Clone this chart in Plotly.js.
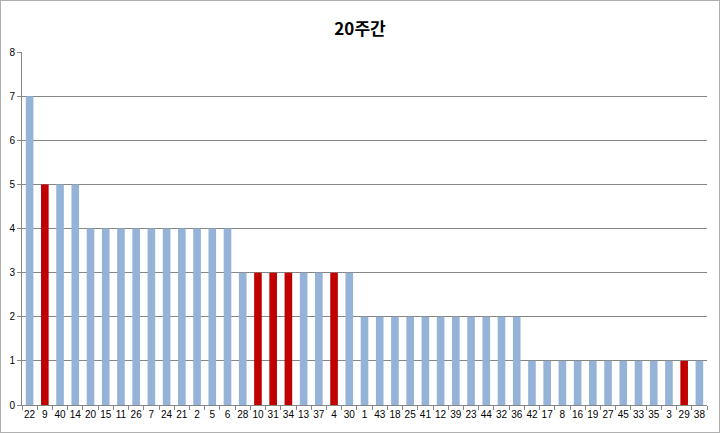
<!DOCTYPE html>
<html><head><meta charset="utf-8">
<script src="https://cdn.plot.ly/plotly-3.0.1.min.js"></script>
<style>html,body{margin:0;padding:0;background:#fff}#chart{width:720px;height:433px;box-sizing:border-box;border:1px solid #b0b0b0}</style>
</head><body><div id="chart"></div>
<script>
const categories = ["22","9","40","14","20","15","11","26","7","24","21","2","5","6","28","10","31","34","13","37","4","30","1","43","18","25","41","12","39","23","44","32","36","42","17","8","16","19","27","45","33","35","3","29","38"];
const values = [7,5,5,5,4,4,4,4,4,4,4,4,4,4,3,3,3,3,3,3,3,3,2,2,2,2,2,2,2,2,2,2,2,1,1,1,1,1,1,1,1,1,1,1,1];
const highlighted = ["9","10","31","34","4","29"];
const yTicks = [0,1,2,3,4,5,6,7,8];
const colors = categories.map(c => highlighted.includes(c) ? "#C00000" : "#95B3D7");
Plotly.newPlot("chart", [{
  type: "bar", x: categories, y: values, marker: {color: colors}, hoverinfo: "x+y"
}], {
  width: 718, height: 431,
  margin: {l: 21, r: 12, t: 51, b: 27},
  paper_bgcolor: "#fff", plot_bgcolor: "#fff",
  bargap: 0.5,
  showlegend: false,
  font: {family: "Liberation Sans, Arial, sans-serif", size: 10, color: "#000"},
  title: {text: "<b>20주간</b>", x: 0.5, xanchor: "center", y: 0.935, yanchor: "middle",
    font: {family: "Noto Sans CJK KR, sans-serif", size: 17, color: "#000"}},
  xaxis: {type: "category", showline: true, linecolor: "#868686", linewidth: 1,
    ticks: "outside", ticklen: 4, tickcolor: "#868686", tickson: "boundaries",
    tickangle: 0, automargin: false,
    showgrid: false, tickfont: {size: 10}, fixedrange: true},
  yaxis: {range: [0, 8], tickvals: yTicks, showline: true, linecolor: "#868686", linewidth: 1,
    ticks: "outside", ticklen: 4, tickcolor: "#868686", automargin: false,
    showgrid: true, gridcolor: "#868686", gridwidth: 1, zeroline: false, tickfont: {size: 10}, fixedrange: true}
}, {displayModeBar: false, staticPlot: true});
</script></body></html>
